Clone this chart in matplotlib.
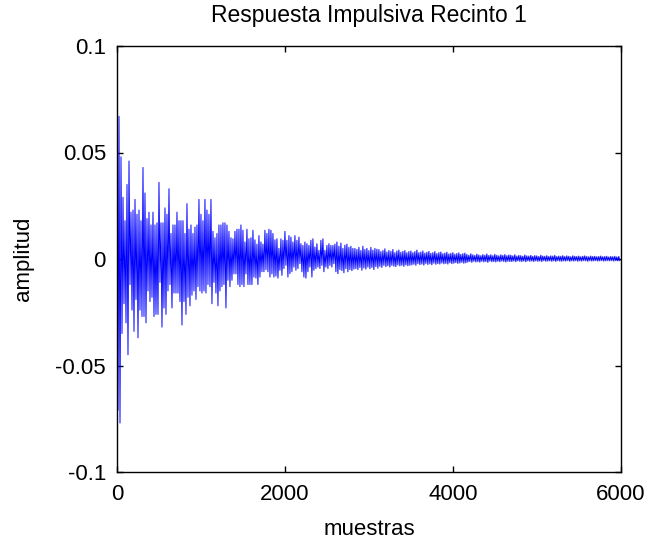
import numpy as np
import matplotlib
matplotlib.use("Agg")
import matplotlib.pyplot as plt

plt.rcParams['font.family'] = ['Liberation Sans', 'DejaVu Sans']
plt.rcParams['axes.unicode_minus'] = False

title = "Respuesta Impulsiva Recinto 1"
xlabel = "muestras"
ylabel = "amplitud"
xticks = [0, 2000, 4000, 6000]
yticks = [-0.1, -0.05, 0, 0.05, 0.1]
ytick_labels = ["-0.1", "-0.05", "0", "0.05", "0.1"]
samples_per_cycle = 23.8  # spacing (in samples) between successive positive peaks

# positive peak of each oscillation cycle
peak_pos = [
    0.007, 0.067, 0.048, 0.029, 0.018, 0.035, 0.046, 0.022, 0.023, 0.028,
    0.021, 0.023, 0.018, 0.043, 0.031, 0.019, 0.022, 0.016, 0.022, 0.016,
    0.017, 0.036, 0.017, 0.017, 0.024, 0.021,
    0.033, 0.012, 0.016, 0.016, 0.022, 0.018, 0.018, 0.018, 0.012, 0.026,
    0.014, 0.016, 0.012, 0.015, 0.016, 0.028, 0.021, 0.018, 0.028, 0.023,
    0.021, 0.028, 0.013, 0.010, 0.012, 0.016, 0.016,
    0.017, 0.017, 0.016, 0.013, 0.010, 0.0095, 0.013, 0.014, 0.014, 0.016,
    0.0135, 0.008, 0.014, 0.0095, 0.010, 0.0135, 0.009, 0.007, 0.011, 0.008,
    0.007, 0.0135, 0.012, 0.014, 0.0135, 0.012, 0.009,
    0.0095, 0.005, 0.0095, 0.0088, 0.013, 0.0088, 0.011, 0.0103, 0.008, 0.011,
    0.0088, 0.0103, 0.0072, 0.0064, 0.008, 0.0072, 0.0064, 0.0088, 0.0095, 0.0056,
    0.0072, 0.0041, 0.0088, 0.0095, 0.0041, 0.0064, 0.0072, 0.0064, 0.0064,
    0.007, 0.008, 0.006, 0.0075, 0.005, 0.0065, 0.007, 0.0055, 0.006, 0.005,
    0.005, 0.0045, 0.0055, 0.004, 0.006, 0.0045, 0.005, 0.004, 0.0055, 0.0042,
    0.005, 0.0046,
    0.0045, 0.0035, 0.004, 0.0048, 0.0033, 0.004, 0.0036, 0.0045, 0.003, 0.0038,
    0.0042, 0.0032, 0.0036, 0.004, 0.003, 0.0035,
    0.0038, 0.003, 0.0035, 0.0042, 0.003, 0.0033, 0.0038, 0.0028, 0.0032, 0.0036,
    0.0027, 0.003, 0.0035, 0.0026, 0.003, 0.0033, 0.0025, 0.0028, 0.0032, 0.0024,
    0.0027, 0.003, 0.0023, 0.0026, 0.0029, 0.0022, 0.0025, 0.0028,
    0.0022, 0.0018, 0.0025, 0.002, 0.0017, 0.0023, 0.0019, 0.0016, 0.0021, 0.0018,
    0.0024, 0.0017, 0.002, 0.0016, 0.0022, 0.0018, 0.0015, 0.002, 0.0017, 0.0021,
    0.0016, 0.0019,
    0.0018, 0.0015, 0.002, 0.0014, 0.0017, 0.0016, 0.0013, 0.0019, 0.0015, 0.0014,
    0.0017, 0.0013, 0.0016, 0.0015, 0.0012, 0.0018, 0.0014, 0.0013, 0.0016, 0.0012,
    0.0015, 0.0014, 0.0017, 0.0012, 0.0014, 0.0013, 0.0016, 0.0012, 0.0015, 0.0013,
    0.0011, 0.0015, 0.0013, 0.0012, 0.0014, 0.0011, 0.0013, 0.0015, 0.0012, 0.0011,
    0.0014, 0.0012, 0.0013, 0.0011, 0.0012, 0.0014, 0.0011, 0.0012, 0.0013, 0.001,
    0.0012, 0.0011, 0.0013, 0.001, 0.0012,
]

# negative peak of each oscillation cycle
peak_neg = [
    -0.071, -0.077, -0.035, -0.021, -0.030, -0.045, -0.012, -0.024, -0.034, -0.019,
    -0.037, -0.024, -0.027, -0.027, -0.030, -0.015, -0.020, -0.018, -0.027, -0.026,
    -0.026, -0.011, -0.032, -0.023, -0.026, -0.015,
    -0.012, -0.023, -0.016, -0.016, -0.016, -0.020, -0.031, -0.020, -0.026, -0.018,
    -0.022, -0.017, -0.015, -0.019, -0.013, -0.015, -0.016, -0.015, -0.016, -0.012,
    -0.013, -0.021, -0.011, -0.016, -0.022, -0.015, -0.013,
    -0.012, -0.023, -0.010, -0.013, -0.010, -0.007, -0.007, -0.012, -0.013, -0.012,
    -0.013, -0.007, -0.012, -0.012, -0.012, -0.0085, -0.009, -0.012, -0.0085, -0.006,
    -0.006, -0.005, -0.006, -0.0085, -0.007, -0.0085, -0.008,
    -0.009, -0.0053, -0.0077, -0.0045, -0.003, -0.0085, -0.0069, -0.006, -0.0038, -0.0053,
    -0.0045, -0.0022, -0.006, -0.0085, -0.009, -0.006, -0.0038, -0.0085, -0.0053, -0.0045,
    -0.0038, -0.0045, -0.003, -0.006, -0.0038, -0.0045, -0.003, -0.0038, -0.0022,
    -0.006, -0.0069, -0.005, -0.0055, -0.0065, -0.0045, -0.006, -0.005, -0.0055, -0.0048,
    -0.0045, -0.005, -0.004, -0.0053, -0.0042, -0.0048, -0.0038, -0.0046, -0.004, -0.005,
    -0.0036, -0.0044,
    -0.0035, -0.004, -0.003, -0.0036, -0.0032, -0.0038, -0.003, -0.0034, -0.0036, -0.0028,
    -0.0033, -0.003, -0.0035, -0.0028, -0.0032, -0.003,
    -0.0028, -0.0025, -0.003, -0.0022, -0.0027, -0.0024, -0.0029, -0.0021, -0.0026, -0.0023,
    -0.0027, -0.002, -0.0025, -0.0022, -0.0024, -0.0019, -0.0023, -0.0021, -0.0024, -0.0018,
    -0.0022, -0.002, -0.0017, -0.0021, -0.0019, -0.0016, -0.002, -0.0018,
    -0.0015, -0.0012, -0.0016, -0.0011, -0.0014, -0.0013, -0.0015, -0.0011, -0.0014, -0.0012,
    -0.0016, -0.001, -0.0013, -0.0012, -0.0014, -0.0011, -0.0013, -0.001, -0.0012, -0.0014,
    -0.0011, -0.0012,
    -0.0012, -0.001, -0.0013, -0.0009, -0.0011, -0.0012, -0.001, -0.0013, -0.0009, -0.0011,
    -0.001, -0.0012, -0.0009, -0.0011, -0.001, -0.0012, -0.0008, -0.0011, -0.001, -0.0009,
    -0.0011, -0.0009, -0.0012, -0.0008, -0.001, -0.0011, -0.0009, -0.001, -0.0008, -0.0011,
    -0.0009, -0.001, -0.0008, -0.0011, -0.0009, -0.001, -0.0008, -0.0009, -0.0011, -0.0008,
    -0.001, -0.0009, -0.0008, -0.001, -0.0009, -0.0008, -0.001, -0.0009, -0.0008, -0.0009,
    -0.0008, -0.001, -0.0008, -0.0009, -0.0008,
]

n = min(len(peak_pos), len(peak_neg))
pos = np.asarray(peak_pos[:n])
neg = np.asarray(peak_neg[:n])
cycle_start = np.arange(n) * samples_per_cycle
x = np.column_stack([cycle_start, cycle_start + samples_per_cycle / 2]).ravel()
y = np.column_stack([pos, neg]).ravel()

fig = plt.figure(figsize=(6.48, 5.46), dpi=100)
ax = fig.add_axes([117 / 648, 1 - 472 / 546, 504 / 648, 426 / 546])
ax.plot(x, y, color='#0000ff', lw=0.7)
ax.set_xlim(0, 6000)
ax.set_ylim(-0.1, 0.1)
ax.set_xticks(xticks)
ax.set_xticklabels([str(t) for t in xticks])
ax.set_yticks(yticks)
ax.set_yticklabels(ytick_labels)
ax.tick_params(direction='in', length=4, width=1, top=True, right=True,
               labelsize=16)
ax.tick_params(axis='x', pad=9)
ax.tick_params(axis='y', pad=8)
for s in ax.spines.values():
    s.set_linewidth(1.0)
ax.set_title(title, fontsize=16.5, pad=17)
ax.set_xlabel(xlabel, fontsize=16, labelpad=10)
ax.set_ylabel(ylabel, fontsize=16, labelpad=15)
fig.savefig("out.png", dpi=100)
